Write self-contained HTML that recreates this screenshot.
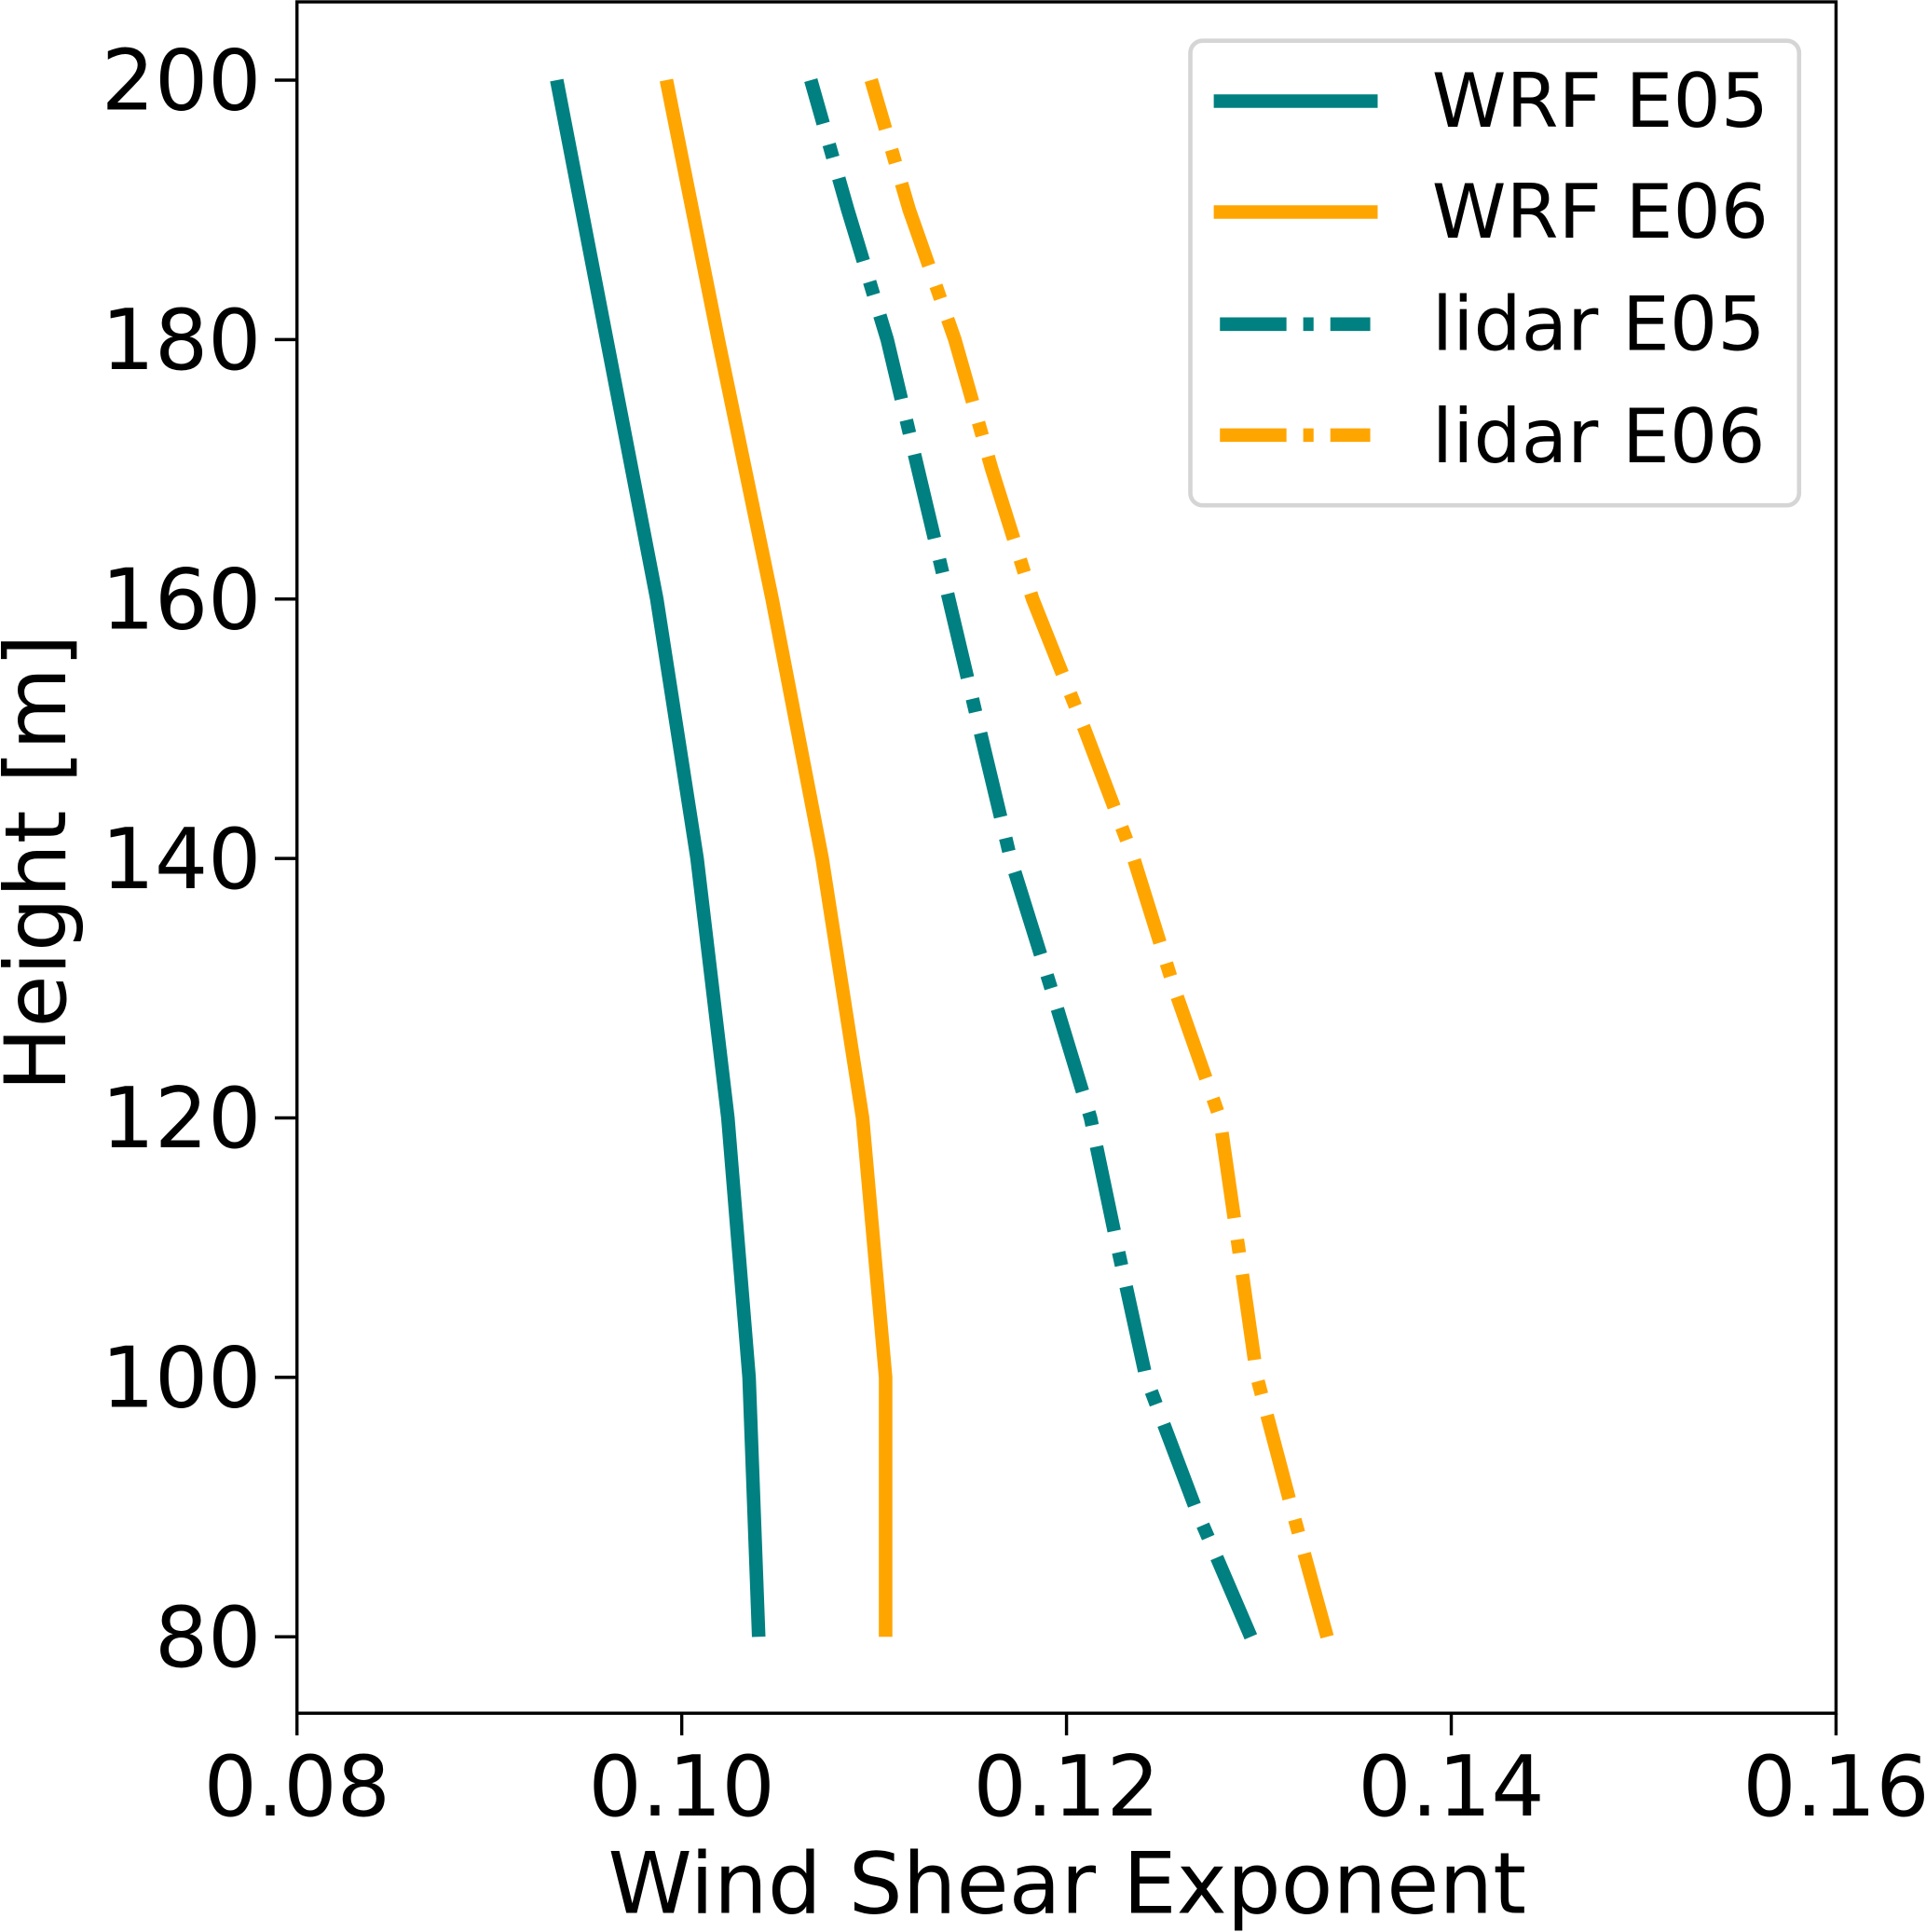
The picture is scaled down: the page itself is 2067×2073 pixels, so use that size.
<!DOCTYPE html>
<html><head><meta charset="utf-8"><style>html,body{margin:0;padding:0;background:#fff}svg{display:block}text{font-family:"DejaVu Sans","Liberation Sans",sans-serif;fill:#000}</style></head>
<body>
<svg id="chart" width="2067" height="2073" viewBox="0 0 1563 1567.5" xmlns="http://www.w3.org/2000/svg">
<g id="plot"></g>
<rect x="241" y="1.5" width="1249" height="1388.5" fill="none" stroke="#000" stroke-width="2.6"/>
<g id="ticks"></g>
<text x="866" y="1552" font-size="69" text-anchor="middle">Wind Shear Exponent</text>
<text transform="translate(53,700) rotate(-90)" font-size="69" text-anchor="middle">Height [m]</text>
<g>
<rect x="966" y="33" width="494" height="377" rx="10" fill="#fff" stroke="#d5d5d5" stroke-width="3.5"/>
<line x1="985" y1="82" x2="1118" y2="82" stroke="#008080" stroke-width="11"/>
<text x="1162" y="103" font-size="61">WRF E05</text>
<line x1="985" y1="172" x2="1118" y2="172" stroke="#FFA500" stroke-width="11"/>
<text x="1162" y="193" font-size="61">WRF E06</text>
<line x1="990" y1="263" x2="1112" y2="263" stroke="#008080" stroke-width="11" stroke-dasharray="54 13.6 8.4 13.6"/>
<text x="1162" y="284" font-size="61">lidar E05</text>
<line x1="990" y1="353" x2="1112" y2="353" stroke="#FFA500" stroke-width="11" stroke-dasharray="54 13.6 8.4 13.6"/>
<text x="1162" y="375" font-size="61">lidar E06</text>
</g>
</svg>
<script>
const wrfHeights = [80, 100, 120, 140, 160, 180, 200];
const wrfE05 = [0.1040, 0.1035, 0.1024, 0.1008, 0.0987, 0.0961, 0.0935];
const wrfE06 = [0.1106, 0.1106, 0.1094, 0.1073, 0.1047, 0.1019, 0.0992];
const lidarHeights = [80, 90, 100, 110, 120, 130, 140, 150, 160, 170, 180, 190, 200];
const lidarE05 = [0.12958, 0.12669, 0.12413, 0.12266, 0.12125, 0.11920, 0.11709, 0.11548, 0.11388, 0.11228, 0.11068, 0.10863, 0.10671];
const lidarE06 = [0.13355, 0.13169, 0.12990, 0.12894, 0.12797, 0.12560, 0.12349, 0.12093, 0.11824, 0.11612, 0.11420, 0.11183, 0.10985];
const xTicks = [0.08, 0.10, 0.12, 0.14, 0.16];
const xTickLabels = ["0.08", "0.10", "0.12", "0.14", "0.16"];
const yTicks = [80, 100, 120, 140, 160, 180, 200];
const yTickLabels = ["80", "100", "120", "140", "160", "180", "200"];

const NS = "http://www.w3.org/2000/svg";
function xs(v){ return 241 + (v - 0.08) / 0.08 * 1249; }
function ys(h){ return 1328 - (h - 80) / 120 * 1263; }
const plot = document.getElementById('plot');
const ticks = document.getElementById('ticks');
function series(hs, vals, color, dashed, name){
  const p = document.createElementNS(NS, 'polyline');
  
  
  p.setAttribute('points', hs.map((h,i)=>xs(vals[i]).toFixed(1)+','+ys(h).toFixed(1)).join(' '));
  p.setAttribute('fill','none');
  p.setAttribute('stroke', color);
  p.setAttribute('stroke-width','11');
  if (dashed) p.setAttribute('stroke-dasharray','70 17.6 11 17.6');
  plot.appendChild(p);
}
series(wrfHeights, wrfE05, '#008080', false, 'line-wrf-e05');
series(wrfHeights, wrfE06, '#FFA500', false, 'line-wrf-e06');
series(lidarHeights, lidarE05, '#008080', true, 'line-lidar-e05');
series(lidarHeights, lidarE06, '#FFA500', true, 'line-lidar-e06');
xTicks.forEach((v,i)=>{
  const l = document.createElementNS(NS,'line');
  
  
  l.setAttribute('x1',xs(v)); l.setAttribute('x2',xs(v));
  l.setAttribute('y1',1390); l.setAttribute('y2',1408);
  l.setAttribute('stroke','#000'); l.setAttribute('stroke-width','2.6');
  ticks.appendChild(l);
  const t = document.createElementNS(NS,'text');
  
  
  t.setAttribute('x',xs(v)); t.setAttribute('y',1473);
  t.setAttribute('font-size','68'); t.setAttribute('text-anchor','middle');
  t.textContent = xTickLabels[i];
  ticks.appendChild(t);
});
yTicks.forEach((h,i)=>{
  const l = document.createElementNS(NS,'line');
  
  
  l.setAttribute('x1',223); l.setAttribute('x2',241);
  l.setAttribute('y1',ys(h)); l.setAttribute('y2',ys(h));
  l.setAttribute('stroke','#000'); l.setAttribute('stroke-width','2.6');
  ticks.appendChild(l);
  const t = document.createElementNS(NS,'text');
  
  
  t.setAttribute('x',212); t.setAttribute('y',ys(h)+24);
  t.setAttribute('font-size','68'); t.setAttribute('text-anchor','end');
  t.textContent = yTickLabels[i];
  ticks.appendChild(t);
});
</script>
</body></html>
